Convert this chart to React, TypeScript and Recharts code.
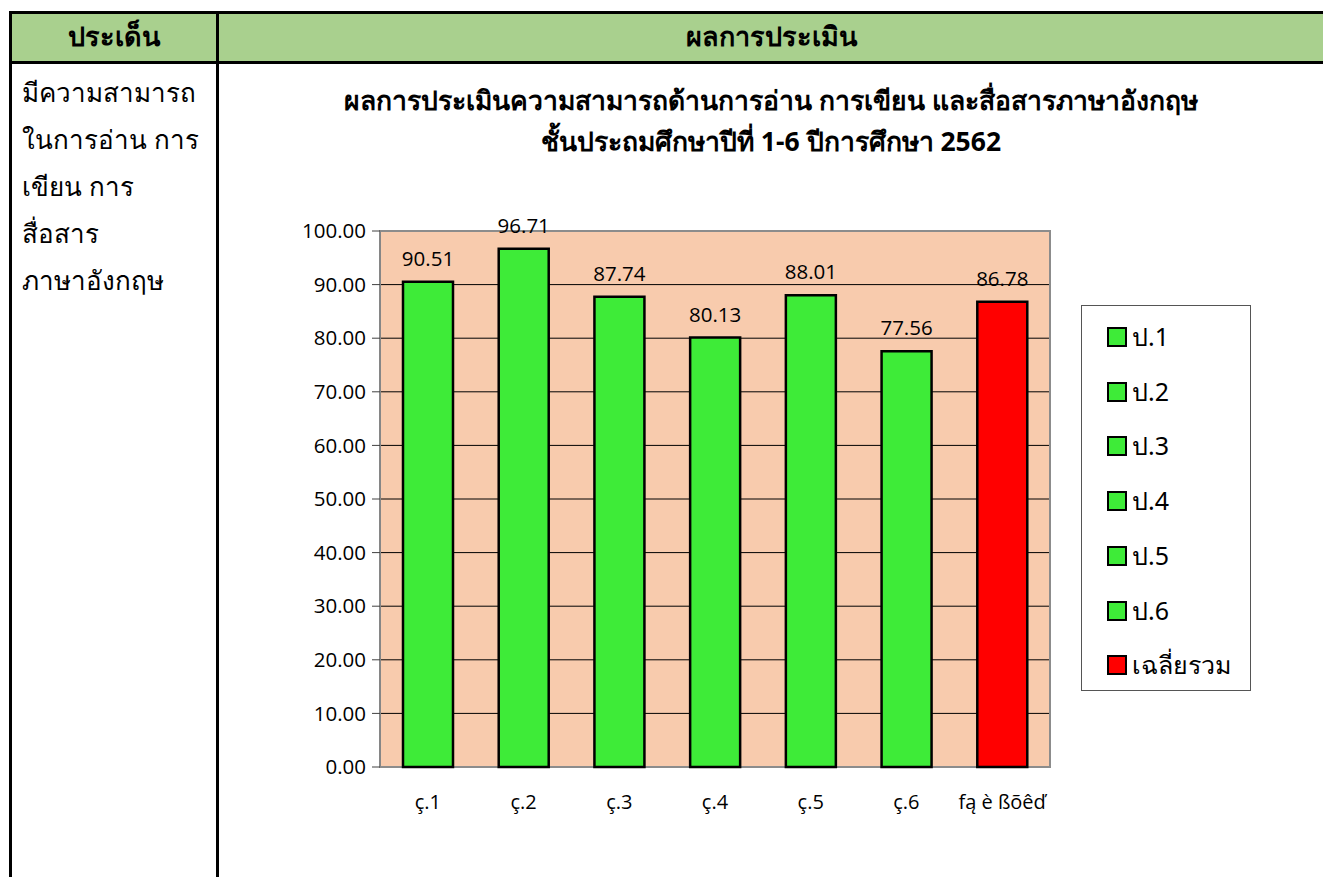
import React from 'react';
import { Bar, BarChart, CartesianGrid, Cell, LabelList, ReferenceArea, XAxis, YAxis } from 'recharts';

// ============ Data ============

const categories = ['ç.1', 'ç.2', 'ç.3', 'ç.4', 'ç.5', 'ç.6', 'fą è ßõêď'];
const legendNames = ['ป.1', 'ป.2', 'ป.3', 'ป.4', 'ป.5', 'ป.6', 'เฉลี่ยรวม'];
const scores = [90.51, 96.71, 87.74, 80.13, 88.01, 77.56, 86.78];
const isAverage = [false, false, false, false, false, false, true];
const yTicks = [0, 10, 20, 30, 40, 50, 60, 70, 80, 90, 100];
const boundaryTicks = [0, 1, 2, 3, 4, 5, 6, 7];

const titleLines = [
  'ผลการประเมินความสามารถด้านการอ่าน การเขียน และสื่อสารภาษาอังกฤษ',
  'ชั้นประถมศึกษาปีที่ 1-6 ปีการศึกษา 2562',
];
const topicLines = ['มีความสามารถ', 'ในการอ่าน การ', 'เขียน การ', 'สื่อสาร', 'ภาษาอังกฤษ'];

const GREEN = '#3eeb38';
const RED = '#ff0000';
const PEACH = '#f8cbad';
const HEADER = '#a9d08e';
const THAI = "Tahoma, 'Noto Sans', 'DejaVu Sans', sans-serif";
const NUM = "'Open Sans', 'Noto Sans', Arial, sans-serif";

const data = categories.map((c, i) => ({ name: c, value: scores[i], avg: isAverage[i] }));

// ============ Legend ============

const ChartLegend: React.FC = () => (
  <div
    style={{
      position: 'absolute',
      left: 1081,
      top: 305,
      width: 168,
      height: 384,
      border: '1px solid #555',
      background: '#fff',
      fontFamily: THAI,
      fontSize: 25,
    }}
  >
    {legendNames.map((n, i) => (
      <div
        key={n}
        style={{ position: 'absolute', left: 25, top: 15 + i * 54.7, height: 32, display: 'flex', alignItems: 'center' }}
      >
        <span
          style={{
            display: 'inline-block',
            width: 16,
            height: 16,
            border: '2px solid #000',
            background: isAverage[i] ? RED : GREEN,
            marginRight: 5,
          }}
        />
        <span>{n}</span>
      </div>
    ))}
  </div>
);

// ============ Main ============

export default function App() {
  return (
    <div style={{ position: 'fixed', left: 0, top: 0, width: 1323, height: 877, background: '#fff', overflow: 'hidden' }}>
      {/* table header */}
      <div style={{ position: 'absolute', left: 9, top: 11, width: 1330, height: 47, background: HEADER, borderTop: '3px solid #000', borderBottom: '3px solid #000' }} />
      <div style={{ position: 'absolute', left: 9, top: 11, width: 3, height: 880, background: '#000' }} />
      <div style={{ position: 'absolute', left: 216, top: 11, width: 3, height: 880, background: '#000' }} />
      <div style={{ position: 'absolute', left: 12, top: 13, width: 204, height: 47, display: 'flex', alignItems: 'center', justifyContent: 'center', fontFamily: THAI, fontWeight: 'bold', fontSize: 27 }}>
        ประเด็น
      </div>
      <div style={{ position: 'absolute', left: 219, top: 13, width: 1104, height: 47, display: 'flex', alignItems: 'center', justifyContent: 'center', fontFamily: THAI, fontWeight: 'bold', fontSize: 27 }}>
        ผลการประเมิน
      </div>

      {/* topic column */}
      {topicLines.map((t, i) => (
        <div key={t} style={{ position: 'absolute', left: 22, top: 72 + i * 47, fontFamily: THAI, fontSize: 26, lineHeight: '40px' }}>
          {t}
        </div>
      ))}

      {/* chart title */}
      {titleLines.map((t, i) => (
        <div key={t} style={{ position: 'absolute', left: 219, top: 80 + i * 41, width: 1104, textAlign: 'center', fontFamily: THAI, fontWeight: 'bold', fontSize: 26.5, lineHeight: '40px' }}>
          {t}
        </div>
      ))}

      <div style={{ position: 'absolute', left: 0, top: 0 }}>
        <BarChart width={1323} height={877} data={data} margin={{ top: 231, right: 273, bottom: 80, left: 320 }}>
          <CartesianGrid xAxisId="cat" vertical={false} stroke="#000" fill={PEACH} fillOpacity={1} horizontalValues={yTicks.slice(0, -1)} />
          <XAxis
            xAxisId="edge"
            type="number"
            domain={[0, 7]}
            ticks={boundaryTicks}
            height={0}
            tickSize={8}
            tickFormatter={() => ''}
            stroke="#808080"
            tickLine={{ stroke: '#404040' }}
          />
          <XAxis
            xAxisId="cat"
            dataKey="name"
            height={30}
            axisLine={false}
            tickLine={false}
            interval={0}
            tick={{ fontSize: 20, fill: '#000', fontFamily: NUM, dy: 20 }}
          />
          <YAxis
            domain={[0, 100]}
            ticks={yTicks}
            width={60}
            tickSize={8}
            interval={0}
            stroke="#808080"
            tickLine={{ stroke: '#404040' }}
            tickFormatter={(v: number) => v.toFixed(2)}
            tick={{ fontSize: 20.5, fill: '#000', fontFamily: NUM, dx: -4 }}
          />
          <ReferenceArea xAxisId="cat" y1={0} y2={100} fill="none" stroke="#8c8c8c" strokeWidth={2} />
          <Bar xAxisId="cat" dataKey="value" barSize={50} stroke="#000" strokeWidth={2.5} isAnimationActive={false}>
            {data.map((d) => (
              <Cell key={d.name} fill={d.avg ? RED : GREEN} />
            ))}
            <LabelList
              dataKey="value"
              position="top"
              offset={16}
              formatter={(v: number) => v.toFixed(2)}
              style={{ fontSize: 20.5, fill: '#000', fontFamily: NUM }}
            />
          </Bar>
        </BarChart>
      </div>

      <ChartLegend />
    </div>
  );
}
